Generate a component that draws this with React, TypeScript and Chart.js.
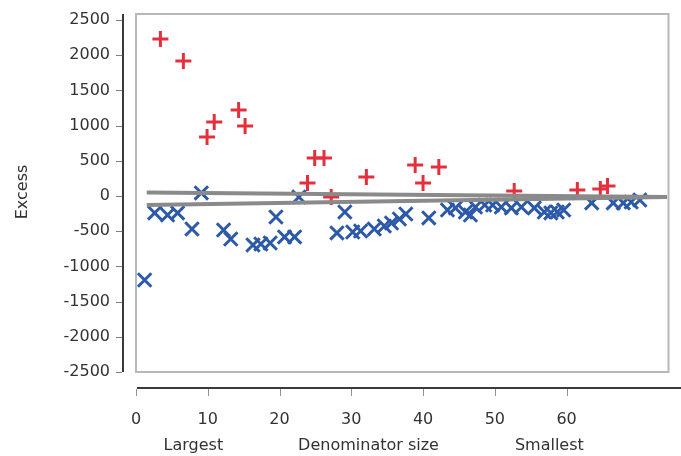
import React, { useEffect, useRef } from 'react';
import { Chart, registerables } from 'chart.js';

Chart.register(...registerables);

// "+" series (red)
const redX = [3.4, 6.6, 9.9, 10.9, 14.3, 15.2, 23.9, 24.9, 26.2, 27.2, 32.1, 38.9, 40.0, 42.2, 52.7, 61.5, 64.7, 65.7];
const redY = [2230, 1918, 838, 1051, 1222, 994, 185, 540, 540, -15, 270, 440, 185, 412, 70, 85, 100, 142];

// "x" series (blue)
const blueX = [1.2, 2.6, 4.4, 5.8, 7.8, 9.1, 12.2, 13.2, 16.3, 17.4, 18.7, 19.5, 20.7, 22.1, 22.7, 28.0, 29.1, 30.2, 31.3, 33.2, 34.6, 35.6, 36.7, 37.6, 40.8, 43.4, 44.5, 45.9, 46.6, 47.3, 48.6, 49.7, 50.9, 52.3, 53.7, 55.5, 56.9, 57.8, 58.7, 59.6, 63.5, 66.5, 67.9, 69.0, 70.2];
const blueY = [-1193, -241, -270, -241, -469, 43, -483, -611, -696, -682, -668, -298, -582, -582, -14, -525, -227, -511, -497, -469, -426, -384, -327, -256, -312, -199, -170, -227, -270, -156, -128, -128, -156, -170, -156, -170, -227, -241, -227, -199, -99, -99, -99, -85, -57];

// reference lines (grey)
const upperLineX = [1.5, 74];
const upperLineY = [50, -14];
const lowerLineX = [1.5, 74];
const lowerLineY = [-128, -14];

const yTicks = [-2500, -2000, -1500, -1000, -500, 0, 500, 1000, 1500, 2000, 2500];
const xTicks = [0, 10, 20, 30, 40, 50, 60];

const bottomLabels = ['Largest', 'Denominator size', 'Smallest'];
const bottomLabelPos = [8.0, 32.4, 57.6];
const yTitle = 'Excess';

const FONT = '"DejaVu Sans", sans-serif';

const decor = {
  id: 'decor',
  beforeDatasetsDraw(chart: any) {
    const { ctx, chartArea: a } = chart;
    ctx.save();
    ctx.strokeStyle = '#b8b8b8';
    ctx.lineWidth = 2;
    ctx.strokeRect(a.left, a.top, a.right - a.left, a.bottom - a.top);
    ctx.restore();
  },
  afterDraw(chart: any) {
    const { ctx, chartArea: a, scales } = chart;
    const xs = scales.x;
    const ys = scales.y;
    ctx.save();
    // y axis line
    const axX = a.left - 13;
    ctx.strokeStyle = '#3a3a3a';
    ctx.lineWidth = 2;
    ctx.beginPath();
    ctx.moveTo(axX, a.top);
    ctx.lineTo(axX, a.bottom);
    ctx.stroke();
    ctx.strokeStyle = '#808080';
    ctx.lineWidth = 1;
    ctx.beginPath();
    for (const v of yTicks) {
      const p = Math.round(ys.getPixelForValue(v)) + 0.5;
      ctx.moveTo(axX - 7, p);
      ctx.lineTo(axX - 1, p);
    }
    ctx.stroke();
    // x axis line
    const axY = a.bottom + 16;
    ctx.strokeStyle = '#3a3a3a';
    ctx.lineWidth = 2;
    ctx.beginPath();
    ctx.moveTo(a.left + 1, axY);
    ctx.lineTo(chart.width, axY);
    ctx.stroke();
    ctx.strokeStyle = '#909090';
    ctx.lineWidth = 1;
    ctx.beginPath();
    for (const v of xTicks) {
      const p = Math.round(xs.getPixelForValue(v)) + 0.5;
      ctx.moveTo(p, axY + 1);
      ctx.lineTo(p, axY + 8);
    }
    ctx.stroke();
    // bottom labels
    ctx.fillStyle = '#333';
    ctx.font = '16px ' + FONT;
    ctx.textAlign = 'center';
    ctx.textBaseline = 'middle';
    bottomLabels.forEach((t, i) => {
      ctx.fillText(t, xs.getPixelForValue(bottomLabelPos[i]), 446);
    });
    // y title
    ctx.translate(23, ys.getPixelForValue(0) - 4);
    ctx.rotate(-Math.PI / 2);
    ctx.fillText(yTitle, 0, 0);
    ctx.restore();
  },
};

export default function App() {
  const ref = useRef<HTMLCanvasElement | null>(null);

  useEffect(() => {
    if (!ref.current) return;
    const red = redX.map((x, i) => ({ x, y: redY[i] }));
    const blue = blueX.map((x, i) => ({ x, y: blueY[i] }));
    const upper = upperLineX.map((x, i) => ({ x, y: upperLineY[i] }));
    const lower = lowerLineX.map((x, i) => ({ x, y: lowerLineY[i] }));

    const chart = new Chart(ref.current, {
      type: 'scatter',
      data: {
        datasets: [
          { type: 'line', data: upper, borderColor: '#8a8a8a', borderWidth: 4, pointRadius: 0, fill: false } as any,
          { type: 'line', data: lower, borderColor: '#8a8a8a', borderWidth: 4, pointRadius: 0, fill: false } as any,
          {
            data: red,
            pointStyle: 'cross',
            pointRadius: 8,
            borderWidth: 3,
            borderColor: '#e4303c',
            backgroundColor: '#e4303c',
          },
          {
            data: blue,
            pointStyle: 'crossRot',
            pointRadius: 9.5,
            borderWidth: 3,
            borderColor: '#2c5aa8',
            backgroundColor: '#2c5aa8',
          },
        ],
      },
      options: {
        animation: false,
        responsive: true,
        maintainAspectRatio: false,
        events: [],
        layout: { padding: { top: 14, right: 5, left: 0, bottom: 0 } },
        plugins: { legend: { display: false }, tooltip: { enabled: false } },
        scales: {
          x: {
            type: 'linear',
            min: 0,
            max: 74.2,
            grid: { display: false, drawTicks: false },
            border: { display: false },
            ticks: {
              padding: 38,
              color: '#333',
              font: { family: FONT, size: 16 },
              maxRotation: 0,
              callback: (v: any) => String(v),
            },
            afterBuildTicks: (s: any) => { s.ticks = xTicks.map((v) => ({ value: v })); },
            afterFit: (s: any) => { s.height = 84; s.paddingLeft = 0; s.paddingRight = 0; },
          },
          y: {
            type: 'linear',
            min: -2500,
            max: 2585,
            grid: { display: false, drawTicks: false },
            border: { display: false },
            ticks: {
              padding: 26,
              color: '#333',
              font: { family: FONT, size: 16 },
              callback: (v: any) => String(v),
            },
            afterBuildTicks: (s: any) => { s.ticks = yTicks.map((v) => ({ value: v })); },
            afterFit: (s: any) => { s.width = 136; s.paddingTop = 0; s.paddingBottom = 0; },
          },
        },
      },
      plugins: [decor],
    });
    return () => chart.destroy();
  }, []);

  return (
    <div style={{ position: 'absolute', left: 0, top: 0, width: 681, height: 456 }}>
      <canvas ref={ref} />
    </div>
  );
}
